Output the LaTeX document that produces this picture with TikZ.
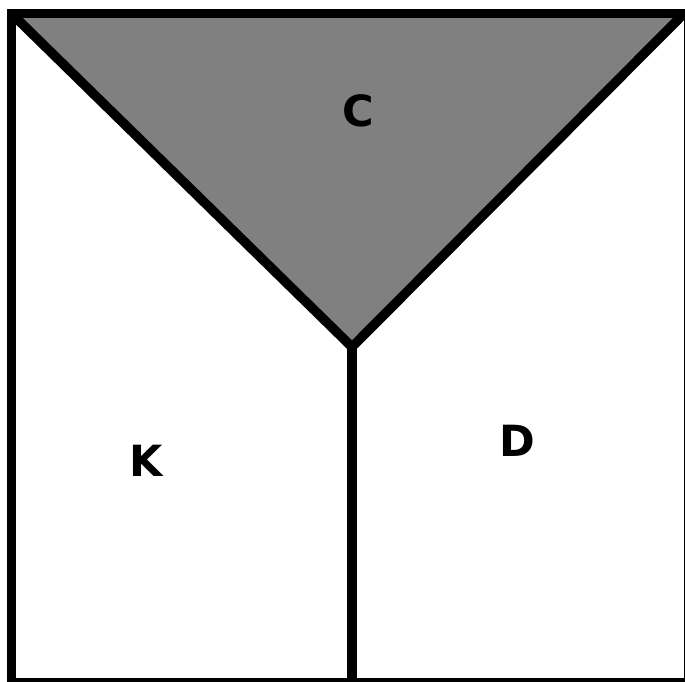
\documentclass[tikz,border=0pt]{standalone}
\usepackage{fontspec}
\setmainfont{DejaVu Sans}
\definecolor{regiongray}{RGB}{128,128,128}
\tikzset{
  thickline/.style={line width=9.5pt, black, line join=miter},
  lbl/.style={font=\fontsize{43}{43}\selectfont\bfseries, inner sep=0pt, anchor=center}
}
\begin{document}
\begin{tikzpicture}[x=1pt,y=-1pt]
\useasboundingbox (0,0) rectangle (685,682);
\clip (0,0) rectangle (685,682);
\fill[white] (0,0) rectangle (685,682);
\coordinate (tl) at (11.5,13.5);
\coordinate (tr) at (684,13.5);
\coordinate (bl) at (11.5,682);
\coordinate (br) at (688,684);
\coordinate (apex) at (352,347);
\coordinate (bot) at (352,684);
\fill[regiongray] (tl) -- (tr) -- (apex) -- cycle;
\draw[thickline] (tl) -- (apex) -- (tr);
\draw[thickline] (apex) -- (bot);
\draw[thickline] (11.5,13.5) rectangle (689,682.5);
\node[lbl] (c) at (358,111) {C};
\node[lbl] (k) at (146,461) {K};
\node[lbl] (d) at (517,441) {D};
\end{tikzpicture}
\end{document}
